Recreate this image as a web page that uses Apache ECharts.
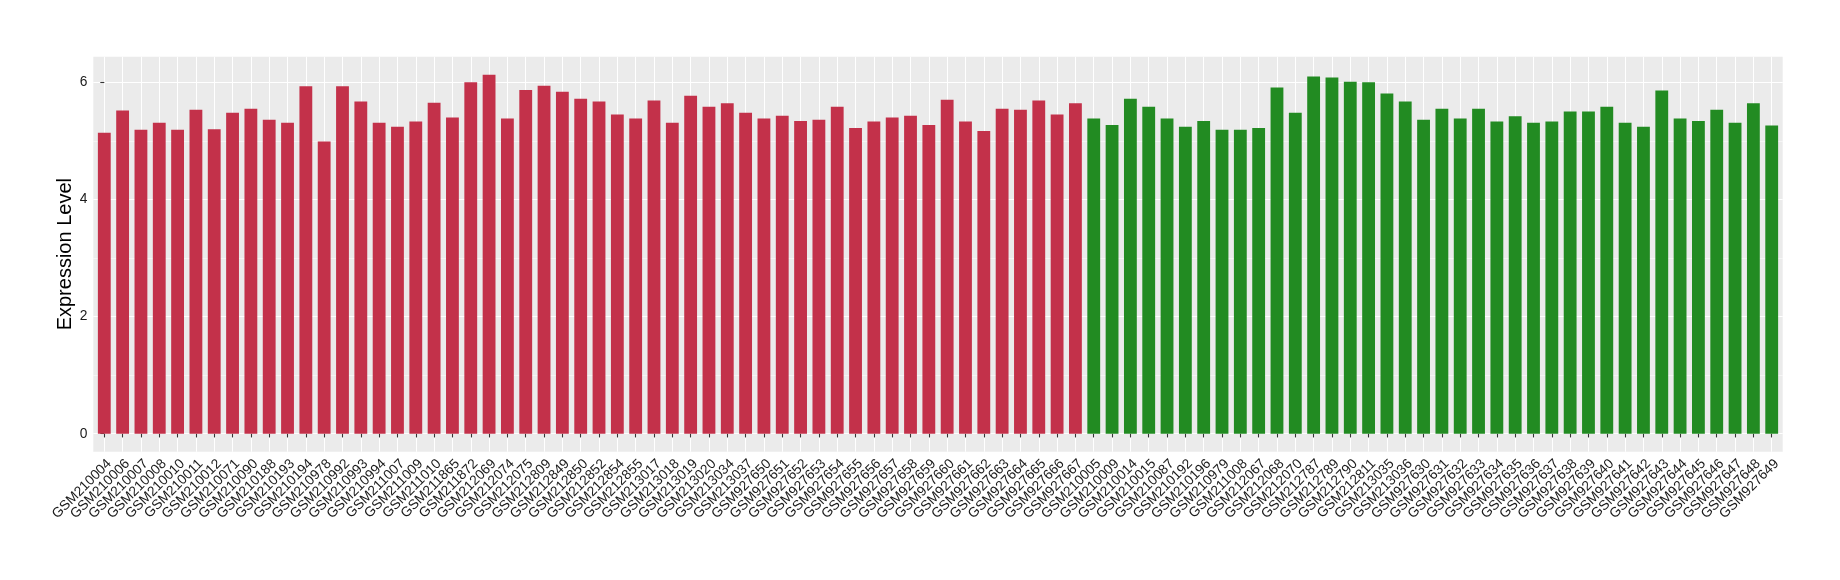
<!DOCTYPE html>
<html>
<head>
<meta charset="utf-8">
<script src="https://cdn.jsdelivr.net/npm/echarts@6/dist/echarts.min.js"></script>
<style>
html,body{margin:0;padding:0;background:#fff;}
#chart{width:1840px;height:580px;}
</style>
</head>
<body>
<div id="chart"></div>
<script>
// Group 1 (red) samples and values
const redSamples = ["GSM210004","GSM210006","GSM210007","GSM210008","GSM210010","GSM210011","GSM210012","GSM210071","GSM210090","GSM210188","GSM210193","GSM210194","GSM210978","GSM210992","GSM210993","GSM210994","GSM211007","GSM211009","GSM211010","GSM211865","GSM211872","GSM212069","GSM212074","GSM212075","GSM212809","GSM212849","GSM212850","GSM212852","GSM212854","GSM212855","GSM213017","GSM213018","GSM213019","GSM213020","GSM213034","GSM213037","GSM927650","GSM927651","GSM927652","GSM927653","GSM927654","GSM927655","GSM927656","GSM927657","GSM927658","GSM927659","GSM927660","GSM927661","GSM927662","GSM927663","GSM927664","GSM927665","GSM927666","GSM927667"];
const redValues = [5.14,5.52,5.19,5.31,5.19,5.53,5.20,5.48,5.55,5.36,5.31,5.93,4.99,5.93,5.67,5.31,5.24,5.33,5.65,5.40,6.00,6.13,5.38,5.87,5.94,5.84,5.72,5.67,5.45,5.38,5.69,5.31,5.77,5.58,5.64,5.48,5.38,5.43,5.34,5.36,5.58,5.22,5.33,5.40,5.43,5.27,5.70,5.33,5.17,5.55,5.53,5.69,5.45,5.64];
// Group 2 (green) samples and values
const greenSamples = ["GSM210005","GSM210009","GSM210014","GSM210015","GSM210087","GSM210192","GSM210196","GSM210979","GSM211008","GSM212067","GSM212068","GSM212070","GSM212787","GSM212789","GSM212790","GSM212811","GSM213035","GSM213036","GSM927630","GSM927631","GSM927632","GSM927633","GSM927634","GSM927635","GSM927636","GSM927637","GSM927638","GSM927639","GSM927640","GSM927641","GSM927642","GSM927643","GSM927644","GSM927645","GSM927646","GSM927647","GSM927648","GSM927649"];
const greenValues = [5.38,5.27,5.72,5.58,5.38,5.24,5.34,5.19,5.19,5.22,5.91,5.48,6.10,6.08,6.01,6.00,5.81,5.67,5.36,5.55,5.38,5.55,5.33,5.42,5.31,5.33,5.50,5.50,5.58,5.31,5.24,5.86,5.38,5.34,5.53,5.31,5.64,5.26];
const yTicks = [0, 2, 4, 6];
const redColor = "#C3314A";
const greenColor = "#228B22";

const categories = redSamples.concat(greenSamples);
const values = redValues.concat(greenValues);
const colors = redSamples.map(() => redColor).concat(greenSamples.map(() => greenColor));
const idx = categories.map((c, i) => i);
const maxV = Math.max.apply(null, values);
const yMin = -0.05 * maxV, yMax = maxV * 1.05;
const FONT = '"Liberation Sans", Arial, Helvetica, sans-serif';

// panel layout (ggplot-like 0.6 discrete expansion)
const W = 1840, panelLeft = 93.3, panelRight = 57.3, panelTop = 56.7, panelBottom = 128.3;
const n = categories.length;
const band = (W - panelLeft - panelRight) / (n + 0.2);
const inset = 0.1 * band;

const chart = echarts.init(document.getElementById('chart'), null, {renderer: 'canvas'});
chart.setOption({
  animation: false,
  backgroundColor: '#fff',
  grid: [
    {left: panelLeft, right: panelRight, top: panelTop, bottom: panelBottom, show: true, backgroundColor: '#EBEBEB', borderWidth: 0, containLabel: false},
    {left: panelLeft + inset, right: panelRight + inset, top: panelTop, bottom: panelBottom, show: false, containLabel: false}
  ],
  xAxis: [{
    gridIndex: 0, type: 'value', min: -0.6, max: n - 0.4,
    axisLine: {show: false},
    axisTick: {show: true, length: 3.7, customValues: idx, lineStyle: {color: '#333', width: 1.07}},
    axisLabel: {show: false},
    splitLine: {show: true, lineStyle: {color: '#fff', width: 1.07}},
    minorSplitLine: {show: false}
  }, {
    gridIndex: 1, type: 'category', data: categories, boundaryGap: true,
    axisLine: {show: false}, axisTick: {show: false}, splitLine: {show: false},
    axisLabel: {show: true, interval: 0, rotate: 45, fontSize: 13.8, lineHeight: 14, verticalAlign: 'top', color: '#1a1a1a', fontFamily: FONT, margin: 5}
  }],
  yAxis: [{
    gridIndex: 0, type: 'value', min: yMin, max: yMax, minInterval: 2, maxInterval: 2,
    name: 'Expression Level', nameLocation: 'middle', nameRotate: 90, nameGap: 18, nameMoveOverlap: false,
    nameTextStyle: {fontSize: 20, color: '#000', fontFamily: FONT},
    axisLine: {show: false},
    axisTick: {show: true, length: 4, customValues: yTicks, lineStyle: {color: '#333', width: 1.07}},
    axisLabel: {show: true, customValues: yTicks, fontSize: 13.8, color: '#1a1a1a', fontFamily: FONT, margin: 6, showMinLabel: true, showMaxLabel: true},
    splitLine: {show: true, lineStyle: {color: '#fff', width: 1.07}},
    minorTick: {show: false, splitNumber: 2},
    minorSplitLine: {show: true, lineStyle: {color: '#fff', width: 0.53}}
  }, {
    gridIndex: 1, type: 'value', min: yMin, max: yMax, show: false
  }],
  series: [{
    type: 'bar', xAxisIndex: 0, yAxisIndex: 0,
    barWidth: '70%',
    data: values.map((v, i) => ({value: [i, v], itemStyle: {color: colors[i]}})),
    silent: true
  }]
});
</script>
</body>
</html>
